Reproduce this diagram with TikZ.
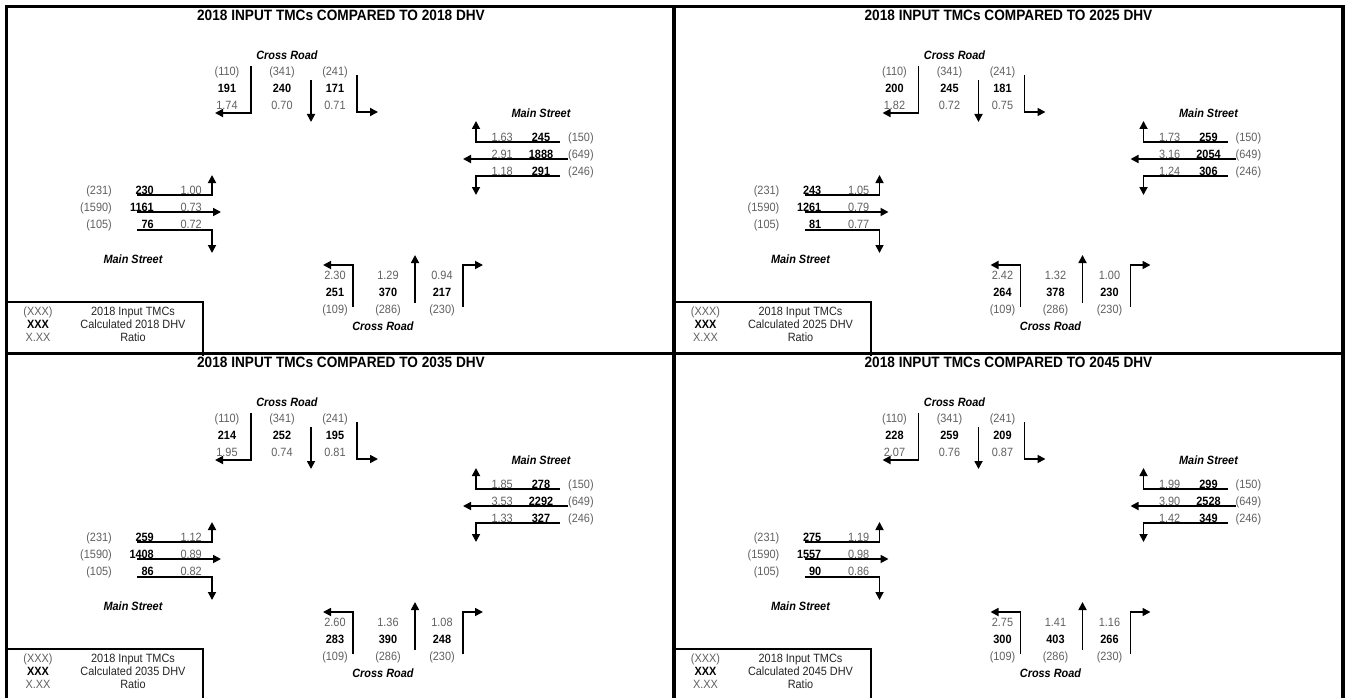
\documentclass[tikz,border=0pt]{standalone}
\usepackage{fontspec}
\setmainfont{Liberation Sans}[FakeStretch=0.91]
\usetikzlibrary{arrows.meta}
\tikzset{
  txt/.style={inner sep=0pt, text height=8.6pt, text depth=0pt, font=\fontsize{12}{13}\selectfont},
  inp/.style={txt, text=black!62},
  calc/.style={txt, font=\fontsize{12}{13}\selectfont\bfseries, text=black},
  street/.style={txt, font=\fontsize{12}{13}\selectfont\bfseries\itshape},
  legtxt/.style={txt, text=black!85},
  ttl/.style={inner sep=0pt, text height=10.7pt, text depth=0pt, font=\fontsize{15}{17}\selectfont\bfseries},
  mv/.style={line width=1.7pt, -{Triangle[length=8pt,width=8pt]}},
  frameline/.style={line width=3.5pt},
  legline/.style={line width=2pt},
}
% North approach: #1 prefix, #2-#4 calculated, #5-#7 ratios
\newcommand\northapp[7]{%
  \node[street] (#1ncr) at (287,55) {Cross Road};
  \node[inp] (#1ni1) at (227,71) {(110)};
  \node[inp] (#1ni2) at (282,71) {(341)};
  \node[inp] (#1ni3) at (335,71) {(241)};
  \node[calc] (#1nc1) at (227,88) {#2};
  \node[calc] (#1nc2) at (282,88) {#3};
  \node[calc] (#1nc3) at (335,88) {#4};
  \node[inp] (#1nr1) at (227,105) {#5};
  \node[inp] (#1nr2) at (282,105) {#6};
  \node[inp] (#1nr3) at (335,105) {#7};
  \draw[mv] (251,66) -- (251,113) -- (215,113);
  \draw[mv] (311,80) -- (311,122);
  \draw[mv] (357,75) -- (357,112) -- (378,112);
}
\newcommand\eastapp[7]{%
  \node[street] (#1ems) at (541,113) {Main Street};
  \node[inp, anchor=east] (#1er1) at (513,137) {#5};
  \node[calc] (#1ec1) at (541,137) {#2};
  \node[inp, anchor=west] (#1ei1) at (568,137) {(150)};
  \node[inp, anchor=east] (#1er2) at (513,154) {#6};
  \node[calc] (#1ec2) at (541,154) {#3};
  \node[inp, anchor=west] (#1ei2) at (568,154) {(649)};
  \node[inp, anchor=east] (#1er3) at (513,171) {#7};
  \node[calc] (#1ec3) at (541,171) {#4};
  \node[inp, anchor=west] (#1ei3) at (568,171) {(246)};
  \draw[mv] (560,142) -- (476,142) -- (476,121);
  \draw[mv] (568,159) -- (463,159);
  \draw[mv] (560,176) -- (476,176) -- (476,195);
}
\newcommand\westapp[7]{%
  \node[inp, anchor=east] (#1wi1) at (112,190) {(231)};
  \node[calc, anchor=east] (#1wc1) at (154,190) {#2};
  \node[inp, anchor=east] (#1wr1) at (202,190) {#5};
  \node[inp, anchor=east] (#1wi2) at (112,207) {(1590)};
  \node[calc, anchor=east] (#1wc2) at (154,207) {#3};
  \node[inp, anchor=east] (#1wr2) at (202,207) {#6};
  \node[inp, anchor=east] (#1wi3) at (112,224) {(105)};
  \node[calc, anchor=east] (#1wc3) at (154,224) {#4};
  \node[inp, anchor=east] (#1wr3) at (202,224) {#7};
  \node[street] (#1wms) at (133,259) {Main Street};
  \draw[mv] (137,195) -- (212,195) -- (212,175);
  \draw[mv] (137,212) -- (221,212);
  \draw[mv] (137,230) -- (212,230) -- (212,253);
}
\newcommand\southapp[7]{%
  \node[inp] (#1sr1) at (335,275) {#5};
  \node[inp] (#1sr2) at (388,275) {#6};
  \node[inp] (#1sr3) at (442,275) {#7};
  \node[calc] (#1sc1) at (335,292) {#2};
  \node[calc] (#1sc2) at (388,292) {#3};
  \node[calc] (#1sc3) at (442,292) {#4};
  \node[inp] (#1si1) at (335,309) {(109)};
  \node[inp] (#1si2) at (388,309) {(286)};
  \node[inp] (#1si3) at (442,309) {(230)};
  \node[street] (#1scr) at (383,326) {Cross Road};
  \draw[mv] (353,307) -- (353,265) -- (323,265);
  \draw[mv] (415,303) -- (415,255);
  \draw[mv] (463,307) -- (463,265) -- (483,265);
}
\newcommand\paneltext[2]{%
  \node[ttl] (#1title) at (341,15) {2018 INPUT TMCs COMPARED TO #2 DHV};
  \draw[legline] (6.5,302) -- (203,302) -- (203,356);
  \node[inp] (#1k1) at (38,311) {(XXX)};
  \node[calc] (#1k2) at (38,324) {XXX};
  \node[inp] (#1k3) at (38,337) {X.XX};
  \node[legtxt] (#1d1) at (133,311) {2018 Input TMCs};
  \node[legtxt] (#1d2) at (133,324) {Calculated #2 DHV};
  \node[legtxt] (#1d3) at (133,337) {Ratio};
}
\begin{document}
\begin{tikzpicture}[x=1pt,y=-1pt]
  \useasboundingbox (0,0) rectangle (1346,698);
  \clip (0,0) rectangle (1346,698);
  \fill[white] (0,0) rectangle (1346,698);
  \begin{scope}
    \paneltext{a}{2018}
    \northapp{a}{191}{240}{171}{1.74}{0.70}{0.71}
    \eastapp{a}{245}{1888}{291}{1.63}{2.91}{1.18}
    \westapp{a}{230}{1161}{76}{1.00}{0.73}{0.72}
    \southapp{a}{251}{370}{217}{2.30}{1.29}{0.94}
  \end{scope}
  \begin{scope}[shift={(667.5,0)}]
    \paneltext{b}{2025}
    \northapp{b}{200}{245}{181}{1.82}{0.72}{0.75}
    \eastapp{b}{259}{2054}{306}{1.73}{3.16}{1.24}
    \westapp{b}{243}{1261}{81}{1.05}{0.79}{0.77}
    \southapp{b}{264}{378}{230}{2.42}{1.32}{1.00}
  \end{scope}
  \begin{scope}[shift={(0,347)}]
    \paneltext{c}{2035}
    \northapp{c}{214}{252}{195}{1.95}{0.74}{0.81}
    \eastapp{c}{278}{2292}{327}{1.85}{3.53}{1.33}
    \westapp{c}{259}{1408}{86}{1.12}{0.89}{0.82}
    \southapp{c}{283}{390}{248}{2.60}{1.36}{1.08}
  \end{scope}
  \begin{scope}[shift={(667.5,347)}]
    \paneltext{d}{2045}
    \northapp{d}{228}{259}{209}{2.07}{0.76}{0.87}
    \eastapp{d}{299}{2528}{349}{1.99}{3.90}{1.42}
    \westapp{d}{275}{1557}{90}{1.19}{0.98}{0.86}
    \southapp{d}{300}{403}{266}{2.75}{1.41}{1.16}
  \end{scope}
  \draw[frameline] (6.5,701) -- (6.5,6.7) -- (1343,6.7) -- (1343,701);
  \draw[frameline] (674,6.7) -- (674,701);
  \draw[frameline] (6.5,353.7) -- (1343,353.7);
\end{tikzpicture}
\end{document}
